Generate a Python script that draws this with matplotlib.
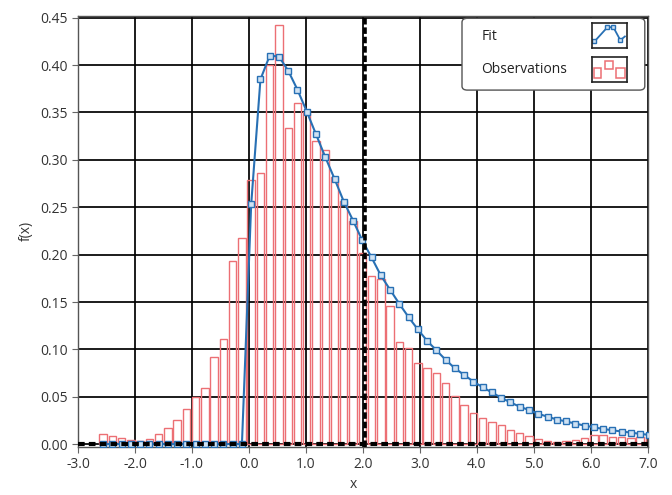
import numpy as np
import matplotlib.pyplot as plt

from matplotlib import patches

# histogram bins (centres are evenly spaced)
bin_start = -2.56
bin_width = 0.1625

observations = [0.0105, 0.009, 0.0065, 0.004, 0.0038, 0.005, 0.0105, 0.017, 0.0255, 0.0375,
                0.050, 0.0595, 0.0915, 0.111, 0.193, 0.218, 0.279, 0.286, 0.400, 0.442,
                0.334, 0.360, 0.350, 0.320, 0.310, 0.282, 0.257, 0.235, 0.202, 0.177,
                0.174, 0.146, 0.108, 0.101, 0.086, 0.080, 0.075, 0.065, 0.051, 0.041,
                0.033, 0.028, 0.023, 0.020, 0.015, 0.012, 0.009, 0.005, 0.0035, 0.0025,
                0.003, 0.0045, 0.007, 0.010, 0.0095, 0.008, 0.0077, 0.007, 0.0077, 0.0075]

fit = [0.0] * 16 + [0.253, 0.385, 0.410, 0.409, 0.394, 0.374, 0.351, 0.327, 0.303, 0.280,
                    0.256, 0.236, 0.215, 0.197, 0.178, 0.163, 0.148, 0.134, 0.121, 0.109,
                    0.099, 0.089, 0.080, 0.073, 0.066, 0.060, 0.0545, 0.049, 0.044, 0.0395,
                    0.036, 0.032, 0.029, 0.026, 0.024, 0.0217, 0.0196, 0.0178, 0.016, 0.0147,
                    0.0133, 0.0122, 0.0108, 0.0098]

cursor_x = 2.04
x_ticks = np.arange(-3, 7.01, 1.0)
y_ticks = np.arange(0, 0.451, 0.05)

x = bin_start + bin_width * np.arange(len(observations))

red = '#ec6f74'
blue = '#2870b4'

plt.rcParams['font.family'] = ['Open Sans', 'DejaVu Sans']

fig = plt.figure(figsize=(6.72, 4.95), dpi=100)
ax = fig.add_axes([0.116, 0.097, 0.848, 0.871])

# bars: outline only
ax.bar(x, observations, width=0.13, fill=False, edgecolor=red, linewidth=1.0, zorder=2)

# fitted curve
ax.plot(x, fit, color=blue, lw=1.5, marker='s', ms=3.8, mfc='#cfe2f3', mec=blue, mew=1.0, zorder=3)

# dashed cursors
ax.plot([-3, 7], [0, 0], color='k', lw=3.0, ls=(0, (1.6, 1.0)), zorder=5, clip_on=False)
ax.axvline(cursor_x, color='k', lw=2.6, ls=(0, (1.8, 0.8)), zorder=5)

ax.set_xlim(-3, 7)
ax.set_ylim(-0.003, 0.452)
ax.set_xticks(x_ticks)
ax.set_yticks(y_ticks)
ax.set_xticklabels(['{:.1f}'.format(t) for t in x_ticks])
ax.set_yticklabels(['{:.2f}'.format(t) for t in y_ticks])
ax.grid(True, color='k', lw=1.25)
ax.set_axisbelow(True)
ax.tick_params(length=4, color='#666666', labelcolor='#333333', labelsize=10, pad=3)
for sp in ax.spines.values():
    sp.set_color('#555555')
    sp.set_linewidth(1.0)
ax.set_xlabel('x', fontsize=10, color='#333333')
ax.set_ylabel('f(x)', fontsize=10, color='#333333')
ax.xaxis.set_label_coords(0.483, -0.07)
ax.yaxis.set_label_coords(-0.078, 0.5)

# hand made legend
box = patches.FancyBboxPatch((0.6875, 0.818), 0.272, 0.145, transform=fig.transFigure,
                             boxstyle='round,pad=0,rounding_size=0.008',
                             facecolor='white', edgecolor='#555555', lw=1.0, zorder=5)
fig.add_artist(box)
fig.text(0.716, 0.927, 'Fit', fontsize=10, color='#222222', va='center', zorder=6)
fig.text(0.716, 0.859, 'Observations', fontsize=10, color='#222222', va='center', zorder=6)

icon1 = fig.add_axes([0.8805, 0.9036, 0.052, 0.0505], zorder=10)
icon1.plot([0.08, 0.45, 0.62, 0.82, 0.95], [0.25, 0.82, 0.82, 0.3, 0.45],
           color=blue, lw=1.3, marker='s', ms=3, mfc='#cfe2f3', mec=blue, markevery=[0, 1, 2, 3])
icon2 = fig.add_axes([0.8805, 0.835, 0.052, 0.0505], zorder=10)
for (x0, y0, w, h) in [(0.08, 0.15, 0.18, 0.4), (0.38, 0.5, 0.24, 0.32), (0.7, 0.15, 0.24, 0.4)]:
    icon2.add_patch(patches.Rectangle((x0, y0), w, h, fill=False, edgecolor=red, lw=1.1))
for ic in (icon1, icon2):
    ic.set_xlim(0, 1)
    ic.set_ylim(0, 1)
    ic.set_xticks([])
    ic.set_yticks([])
    for sp in ic.spines.values():
        sp.set_color('#222222')
        sp.set_linewidth(1.2)

fig.savefig('out.png', dpi=100)
plt.close()
